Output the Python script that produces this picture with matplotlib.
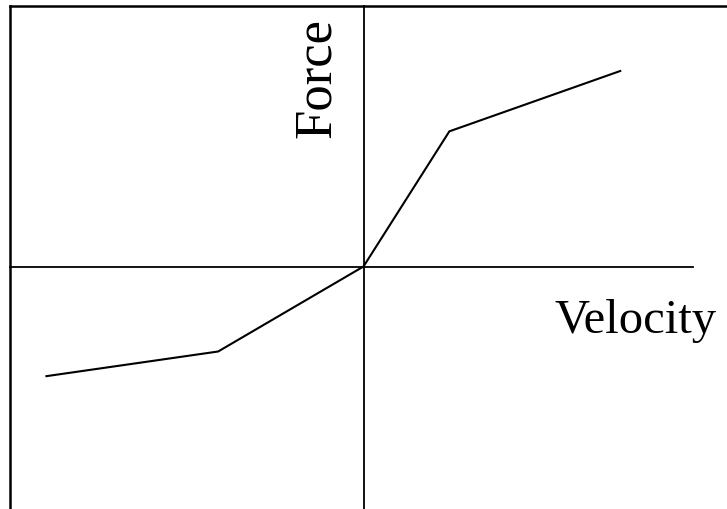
import matplotlib
matplotlib.use("Agg")
import matplotlib.pyplot as plt

# Data (arbitrary units; origin at axis crossing)
velocity = [-3.73, -1.71, 0.0, 1.01, 3.02]
force = [-1.29, -1.00, 0.0, 1.59, 2.30]

U = 85.0  # pixels per unit
X0, Y0 = 363.5, 267.5  # pixel position of origin
W, H = 727, 510

fig = plt.figure(figsize=(7.27, 5.10), dpi=100)
ax = fig.add_axes([0, 0, 1, 1])
ax.set_xlim((0 - X0) / U, (W - X0) / U)
ax.set_ylim((Y0 - H) / U, (Y0 - 0) / U)
ax.axis("off")

px = lambda x: (x - X0) / U
py = lambda y: (Y0 - y) / U

# frame (top and left visible)
ax.plot([px(10), px(10)], [py(7), py(H + 5)], color="black", lw=1.8, solid_capstyle="projecting")
ax.plot([px(10), px(W + 5)], [py(7), py(7)], color="black", lw=1.8, solid_capstyle="projecting")

# axes lines
ax.plot([px(10), px(693)], [0, 0], color="black", lw=1.3)
ax.plot([0, 0], [py(7), py(H + 5)], color="black", lw=1.3)

# curve
ax.plot(velocity, force, color="black", lw=1.5)

ax.text(px(717), py(333), "Velocity", family="Liberation Serif", fontsize=35,
        ha="right", va="baseline")
ax.text(px(330), py(138), "Force", family="Liberation Serif", fontsize=38,
        rotation=90, ha="left", va="baseline", rotation_mode="anchor")

fig.savefig("out.png", dpi=100)
